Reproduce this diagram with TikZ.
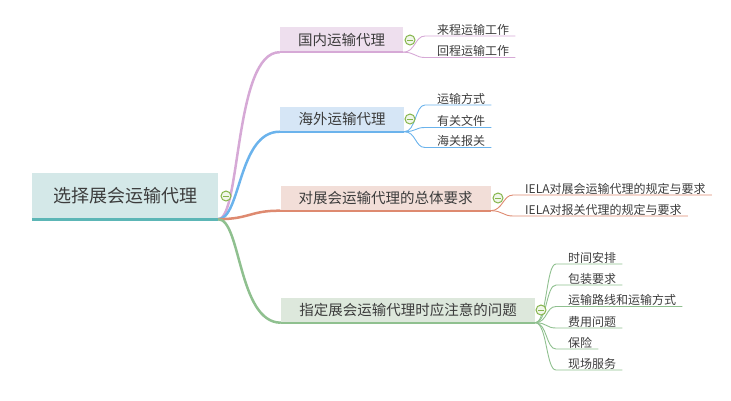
\documentclass[tikz,border=0pt]{standalone}
\usepackage{fontspec}
\setmainfont{Noto Sans CJK SC}
\definecolor{textc}{HTML}{3C3C3C}
\definecolor{rootfill}{HTML}{D4E8E8}
\definecolor{rootline}{HTML}{5CB6B6}
\definecolor{pfill}{HTML}{EEDFEE}
\definecolor{pline}{HTML}{D6A9D6}
\definecolor{bfill}{HTML}{D6E6F6}
\definecolor{bline}{HTML}{6BB3EC}
\definecolor{sfill}{HTML}{F2DED8}
\definecolor{sline}{HTML}{DE8A70}
\definecolor{gfill}{HTML}{DDE8DC}
\definecolor{gline}{HTML}{8FC08F}
\definecolor{togc}{HTML}{86B54C}
\begin{document}
\begin{tikzpicture}[x=1pt,y=-1pt,
  rootbox/.style={inner sep=0, fill=rootfill, text=textc, minimum width=186pt, minimum height=46pt, font=\fontsize{18}{20}\selectfont},
  topic/.style={inner sep=0, text=textc, minimum height=25pt, font=\fontsize{14.5}{16}\selectfont},
  leaf/.style={anchor=south west, inner xsep=6pt, inner ysep=0.6pt, text=textc, font=\fontsize{12}{14}\selectfont},
  toggle/.style={circle, draw=togc, fill=togc!12, line width=1pt, minimum size=10pt, inner sep=0,
    path picture={\draw[togc, line width=1pt] ([xshift=-2.8pt]path picture bounding box.center) -- ([xshift=2.8pt]path picture bounding box.center);}},
  mainline/.style={line width=2.5pt},
  subline/.style={line width=0.9pt}
]
\useasboundingbox (0,0) rectangle (731,400);

% root
\node[rootbox] (root) at (125,196) {选择展会运输代理};
\draw[rootline, line width=3pt] (root.south west) -- (root.south east);

% topics
\node[topic, fill=pfill, minimum width=123pt] (t1) at (341.5,39.5) {国内运输代理};
\node[topic, fill=bfill, minimum width=124pt] (t2) at (342,119) {海外运输代理};
\node[topic, fill=sfill, minimum width=210pt] (t3) at (385.5,198) {对展会运输代理的总体要求};
\node[topic, fill=gfill, minimum width=254pt] (t4) at (408,310) {指定展会运输代理时应注意的问题};

% main connectors
\draw[pline, mainline] (root.south east) .. controls (241,219) and (234,52) .. (t1.south west);
\draw[bline, mainline] (root.south east) .. controls (241,219) and (238,131.5) .. (t2.south west);
\draw[sline, mainline] (root.south east) .. controls (250,219) and (250,210.5) .. (t3.south west);
\draw[gline, mainline] (root.south east) .. controls (241,219) and (238,322.5) .. (t4.south west);

\draw[pline, line width=2.4pt] (t1.south west) -- (t1.south east);
\draw[bline, line width=2.4pt] (t2.south west) -- (t2.south east);
\draw[sline, line width=2.4pt] (t3.south west) -- (t3.south east);
\draw[gline, line width=2.4pt] (t4.south west) -- (t4.south east);

% leaves
\node[leaf] (a1) at (431,36) {来程运输工作};
\node[leaf] (a2) at (431,57.5) {回程运输工作};

\node[leaf] (b1) at (431,105) {运输方式};
\node[leaf] (b2) at (431,127.5) {有关文件};
\node[leaf] (b3) at (431,147.5) {海关报关};

\node[leaf] (c1) at (519,195) {IELA对展会运输代理的规定与要求};
\node[leaf] (c2) at (519,216) {IELA对报关代理的规定与要求};

\node[leaf] (d1) at (562,264) {时间安排};
\node[leaf] (d2) at (562,285) {包装要求};
\node[leaf] (d3) at (562,306.5) {运输路线和运输方式};
\node[leaf] (d4) at (562,328) {费用问题};
\node[leaf] (d5) at (562,349) {保险};
\node[leaf] (d6) at (562,370) {现场服务};

% leaf connectors
\foreach \l in {a1,a2}
  \draw[pline, subline] (t1.south east) .. controls +(12,0) and +(-10,0) .. ([xshift=-6pt]\l.south west) -- (\l.south east);
\foreach \l in {b1,b2,b3}
  \draw[bline, subline] (t2.south east) .. controls +(12,0) and +(-10,0) .. ([xshift=-6pt]\l.south west) -- (\l.south east);
\foreach \l in {c1,c2}
  \draw[sline, subline] (t3.south east) .. controls +(12,0) and +(-10,0) .. ([xshift=-6pt]\l.south west) -- (\l.south east);
\foreach \l in {d1,d2,d3,d4,d5,d6}
  \draw[gline, subline] (t4.south east) .. controls +(12,0) and +(-10,0) .. ([xshift=-6pt]\l.south west) -- (\l.south east);

% toggles
\node[toggle] (g0) at (226,196) {};
\node[toggle] (g1) at (410,40) {};
\node[toggle] (g2) at (410,119) {};
\node[toggle] (g3) at (498,198) {};
\node[toggle] (g4) at (541,310) {};
\end{tikzpicture}
\end{document}
